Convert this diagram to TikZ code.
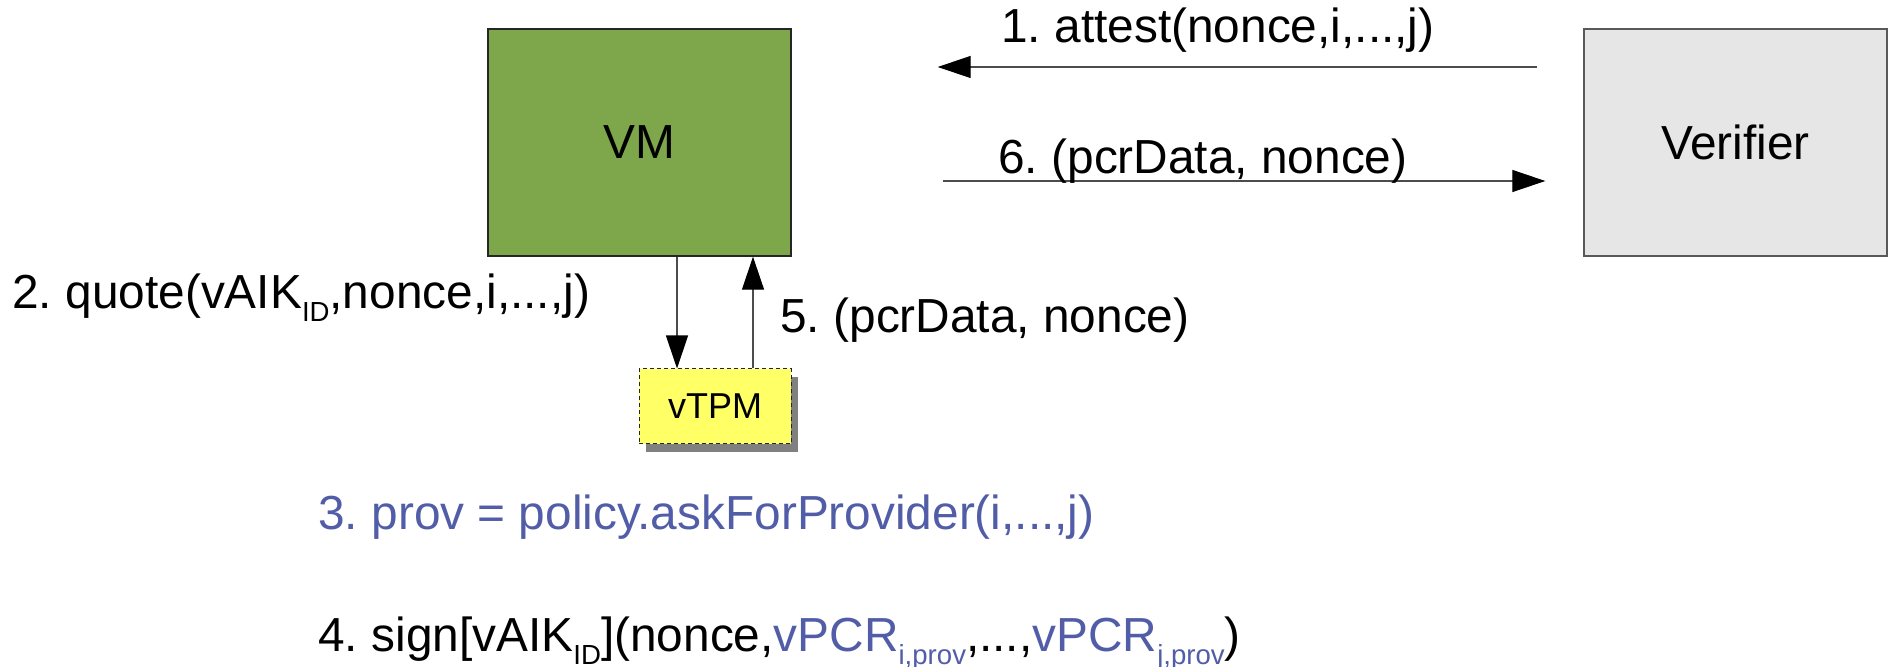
\documentclass[tikz,border=0pt]{standalone}
\usepackage{fontspec}
\setmainfont{Liberation Sans}
\usetikzlibrary{arrows.meta,shadows}
\definecolor{vmgreen}{RGB}{126,166,74}
\definecolor{vergray}{RGB}{230,230,230}
\definecolor{tpmyellow}{RGB}{255,255,102}
\definecolor{txtblue}{RGB}{82,93,168}
\newcommand{\sbs}[1]{\raisebox{-6.5pt}{\fontsize{13.8}{15}\selectfont #1}}
\frenchspacing
\tikzset{
  big/.style={font=\fontsize{23.9}{28}\selectfont},
  boxbase/.style={rectangle, inner sep=0pt, minimum width=151.5pt, minimum height=113.5pt, big},
  vmbox/.style={boxbase, draw=black!85, line width=0.7pt, fill=vmgreen},
  verbox/.style={boxbase, draw=black!65, line width=0.7pt, fill=vergray},
  tpmbox/.style={rectangle, inner sep=0pt, minimum width=76pt, minimum height=37.5pt,
    draw=black!85, line width=0.5pt, dash pattern=on 2pt off 1.5pt, fill=tpmyellow,
    general shadow={fill=black!50, shadow xshift=3.5pt, shadow yshift=-4pt},
    font=\fontsize{18}{22}\selectfont},
  lbl/.style={inner sep=0pt, anchor=base west, big},
  conn/.style={draw=black!70, line width=0.6pt, -{Triangle[length=16.5pt,width=11pt,black]}}
}
\begin{document}
\begin{tikzpicture}[x=0.5pt,y=-0.5pt]
\useasboundingbox (0,0) rectangle (1888,667);
\node[vmbox] (vm) at (639.5,142.5) {VM};
\node[verbox] (ver) at (1735.5,142.5) {Verifier};
\node[tpmbox] (tpm) at (715,406.5) {vTPM};

\coordinate (y1) at (0,67);
\coordinate (y6) at (0,181);
\coordinate (xd) at (677,0);
\coordinate (xu) at (753,0);

\draw[conn, shorten <=23pt, shorten >=73pt] (ver.west |- y1) -- (vm.east |- y1);
\draw[conn, shorten <=75.5pt, shorten >=19pt] (vm.east |- y6) -- (ver.west |- y6);
\draw[conn] (vm.south -| xd) -- (tpm.north -| xd);
\draw[conn] (tpm.north -| xu) -- (vm.south -| xu);

\node[lbl] (l1) at (1001,43) {1. attest(nonce,i,...,j)};
\node[lbl] (l6) at (998,174) {6. (pcrData, nonce)};
\node[lbl] (l2) at (12,309) {2. quote(vAIK\sbs{ID},nonce,i,...,j)};
\node[lbl] (l5) at (780,333) {5. (pcrData, nonce)};
\node[lbl, text=txtblue] (l3) at (318,530) {3. prov = policy.askForProvider(i,...,j)};
\node[lbl] (l4) at (318,651) {4. sign[vAIK\sbs{ID}](nonce,\textcolor{txtblue}{vPCR\sbs{i,prov}},...,\textcolor{txtblue}{vPCR\sbs{j,prov}})};
\end{tikzpicture}
\end{document}
